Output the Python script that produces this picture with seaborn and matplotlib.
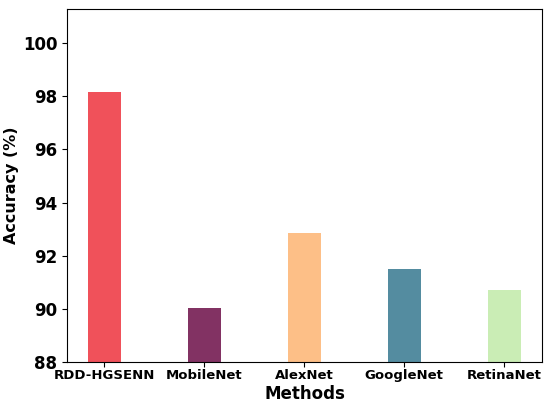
import seaborn as sns
import matplotlib
matplotlib.use('Agg')
import matplotlib.pyplot as plt
import pandas as pd

methods = ['RDD-HGSENN', 'MobileNet', 'AlexNet', 'GoogleNet', 'RetinaNet']
accuracy = [98.15, 90.04, 92.85, 91.5, 90.7]
colors = ['#F0515A', '#823263', '#FDBF87', '#548CA0', '#CAEDB5']

df = pd.DataFrame({'Methods': methods, 'Accuracy': accuracy})

fig, ax = plt.subplots(figsize=(5.5, 4.05), dpi=100)
sns.barplot(data=df, x='Methods', y='Accuracy', hue='Methods', palette=colors,
            width=0.33, saturation=1, legend=False, ax=ax)
ax.set_xlim(-0.37, 4.38)
ax.set_ylim(88, 101.3)
ax.set_yticks([88, 90, 92, 94, 96, 98, 100])
ax.tick_params(axis='x', pad=2)
for lbl in ax.get_xticklabels():
    lbl.set_fontweight('bold')
    lbl.set_fontsize(9.5)
for lbl in ax.get_yticklabels():
    lbl.set_fontweight('bold')
    lbl.set_fontsize(12)
ax.set_xlabel('Methods', fontsize=12, fontweight='bold', labelpad=2)
ax.set_ylabel('Accuracy (%)', fontsize=11.5, fontweight='bold', labelpad=3)
plt.subplots_adjust(left=0.122, right=0.986, top=0.978, bottom=0.107)
plt.savefig('out.png')
